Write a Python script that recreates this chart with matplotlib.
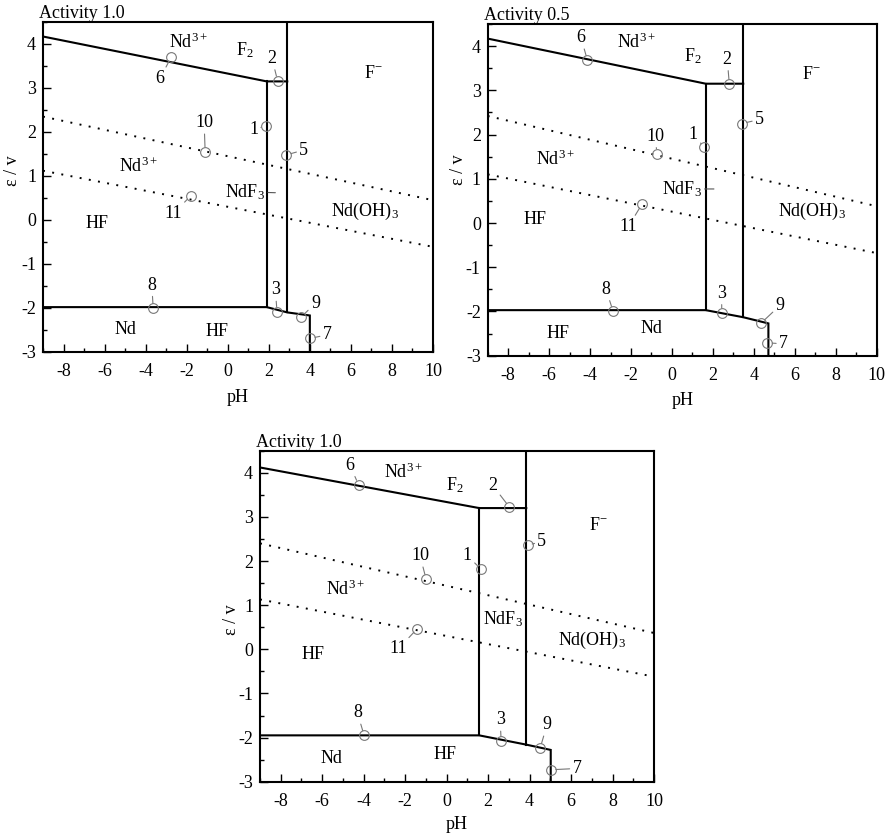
import matplotlib
matplotlib.use("Agg")
import matplotlib.pyplot as plt
from matplotlib.ticker import MultipleLocator

plt.rcParams['font.family'] = ['Liberation Serif', 'DejaVu Serif']
plt.rcParams['mathtext.fontset'] = 'custom'
plt.rcParams['mathtext.rm'] = 'Liberation Serif'
plt.rcParams['mathtext.it'] = 'Liberation Serif:italic'
plt.rcParams['axes.unicode_minus'] = False

# ---------------- data ----------------
titles = ["Activity 1.0", "Activity 0.5", "Activity 1.0"]
point_labels = ["1", "2", "3", "5", "6", "7", "8", "9", "10", "11"]
region_names = ["Nd$^{3+}$", "F$_2$", "F$^{\\mathregular{-}}$", "Nd$^{3+}$", "HF",
                "NdF$_3$", "Nd(OH)$_3$"]

# panel A (Activity 1.0, top-left)
a_top_ph = [-9, 1.9, 2.9]
a_top_e = [4.17, 3.15, 3.15]
a_bot_ph = [-9, 1.9, 2.9, 4.0, 4.0]
a_bot_e = [-1.98, -1.98, -2.10, -2.17, -3.0]
a_v1 = [1.9, 3.15, -1.98]
a_v2 = [2.9, 4.5, -2.10]
a_dot_ph = [-9, 10]
a_dot1_e = [2.35, 0.45]
a_dot2_e = [1.12, -0.61]
a_pt_ph = [1.85, 2.43, 2.40, 2.86, -2.76, 4.02, -3.63, 3.57, -1.10, -1.80]
a_pt_e = [2.14, 3.16, -2.08, 1.48, 3.70, -2.69, -2.01, -2.21, 1.55, 0.55]
a_bottom_names = ["Nd", "HF"]

# panel B (Activity 0.5, top-right)
b_top_ph = [-9, 1.65, 3.48]
b_top_e = [4.17, 3.15, 3.15]
b_bot_ph = [-9, 1.65, 3.48, 4.71, 4.71]
b_bot_e = [-1.97, -1.97, -2.13, -2.27, -3.0]
b_v1 = [1.65, 3.15, -1.97]
b_v2 = [3.48, 4.5, -2.13]
b_dot_ph = [-9, 10]
b_dot1_e = [2.42, 0.38]
b_dot2_e = [1.10, -0.68]
b_pt_ph = [1.58, 2.80, 2.43, 3.42, -4.13, 4.66, -2.88, 4.34, -0.73, -1.46]
b_pt_e = [1.71, 3.15, -2.03, 2.25, 3.68, -2.71, -1.99, -2.27, 1.57, 0.43]
b_bottom_names = ["HF", "Nd"]

# panel C (Activity 1.0, bottom)
c_top_ph = [-9, 1.57, 3.84]
c_top_e = [4.12, 3.20, 3.20]
c_bot_ph = [-9, 1.57, 3.84, 5.02, 5.02]
c_bot_e = [-1.95, -1.95, -2.16, -2.28, -3.0]
c_v1 = [1.57, 3.20, -1.95]
c_v2 = [3.84, 4.5, -2.16]
c_dot_ph = [-9, 10]
c_dot1_e = [2.40, 0.37]
c_dot2_e = [1.13, -0.62]
c_pt_ph = [1.65, 3.03, 2.63, 3.90, -4.25, 5.03, -3.98, 4.51, -0.99, -1.41]
c_pt_e = [1.82, 3.22, -2.08, 2.36, 3.73, -2.73, -1.95, -2.24, 1.59, 0.47]
c_bottom_names = ["Nd", "HF"]

# ---------------- layout (positions only) ----------------
axes_rects = [
    [43 / 886, 1 - 352 / 836, 390 / 886, 330 / 836],
    [487.7 / 886, 1 - 355.7 / 836, 389 / 886, 331.7 / 836],
    [260 / 886, 1 - 781.7 / 836, 394 / 886, 331 / 836],
]
ylabel_xy = [(-0.077, 0.55), (-0.076, 0.56), (-0.072, 0.49)]
xlabel_xy = [(0.5, -0.139), (0.5, -0.135), (0.5, -0.13)]
label_pos = [
    [(1.26, 2.05), (2.16, 3.67), (2.32, -1.59), (3.70, 1.59), (-3.29, 3.22),
     (4.84, -2.61), (-3.70, -1.48), (4.27, -1.89), (-1.15, 2.21), (-2.64, 0.15)],
    [(1.04, 2.00), (2.70, 3.70), (2.43, -1.59), (4.27, 2.34), (-4.44, 4.19),
     (5.44, -2.73), (-3.22, -1.50), (5.28, -1.86), (-0.83, 1.96), (-2.13, -0.08)],
    [(1.00, 2.12), (2.23, 3.71), (2.58, -1.60), (4.59, 2.44), (-4.66, 4.17),
     (6.28, -2.70), (-4.30, -1.44), (4.84, -1.71), (-1.28, 2.12), (-2.33, 0.01)],
]
region_pos = [
    [(-1.91, 4.05), (0.85, 3.86), (7.11, 3.33), (-4.35, 1.21), (-6.38, -0.07),
     (0.85, 0.64), (6.70, 0.19)],
    [(-1.72, 4.08), (1.00, 3.77), (6.83, 3.36), (-5.71, 1.43), (-6.69, 0.07),
     (0.48, 0.77), (6.83, 0.26)],
    [(-2.08, 4.02), (0.41, 3.73), (7.33, 2.80), (-4.90, 1.36), (-6.43, -0.12),
     (2.74, 0.68), (7.00, 0.19)],
]
bottom_pos = [
    [(-5.0, -2.50), (-0.53, -2.54)],
    [(-5.55, -2.50), (-0.99, -2.39)],
    [(-5.54, -2.47), (-0.10, -2.39)],
]
ndf3_leader_end = [(2.32, 0.62), (2.05, 0.77), None]

panels = [
    (a_top_ph, a_top_e, a_bot_ph, a_bot_e, a_v1, a_v2, a_dot_ph, a_dot1_e, a_dot2_e,
     a_pt_ph, a_pt_e, a_bottom_names),
    (b_top_ph, b_top_e, b_bot_ph, b_bot_e, b_v1, b_v2, b_dot_ph, b_dot1_e, b_dot2_e,
     b_pt_ph, b_pt_e, b_bottom_names),
    (c_top_ph, c_top_e, c_bot_ph, c_bot_e, c_v1, c_v2, c_dot_ph, c_dot1_e, c_dot2_e,
     c_pt_ph, c_pt_e, c_bottom_names),
]

FS = 13
fig = plt.figure(figsize=(8.86, 8.36), dpi=100)

for i, (top_ph, top_e, bot_ph, bot_e, v1, v2, dph, d1, d2, pph, pe, bnames) in enumerate(panels):
    ax = fig.add_axes(axes_rects[i])
    lw = 1.5
    ax.plot(top_ph, top_e, color='black', lw=lw, solid_joinstyle='miter')
    ax.plot(bot_ph, bot_e, color='black', lw=lw, solid_joinstyle='miter')
    ax.plot([v1[0], v1[0]], [v1[1], v1[2]], color='black', lw=lw)
    ax.plot([v2[0], v2[0]], [v2[1], v2[2]], color='black', lw=lw)
    ax.plot(dph, d1, color='black', lw=1.4, linestyle=(0, (1, 3.8)))
    ax.plot(dph, d2, color='black', lw=1.4, linestyle=(0, (1, 3.8)))

    ax.plot(pph, pe, linestyle='none', marker='o', ms=7, mfc='none', mec='#777777', mew=0.8)
    for lab, x, y, lp in zip(point_labels, pph, pe, label_pos[i]):
        ax.annotate(lab, xy=(x, y), xytext=lp, ha='center', va='center', fontsize=FS,
                    arrowprops=dict(arrowstyle='-', color='#777777', lw=0.8,
                                    shrinkA=0, shrinkB=3.5))

    for name, (x, y) in zip(region_names, region_pos[i]):
        if name.startswith("NdF") and ndf3_leader_end[i] is not None:
            ax.annotate(name, xy=ndf3_leader_end[i], xytext=(x, y), ha='center',
                        va='center', fontsize=FS,
                        arrowprops=dict(arrowstyle='-', color='#555555', lw=0.8,
                                        shrinkA=0, shrinkB=0))
        else:
            ax.text(x, y, name, ha='center', va='center', fontsize=FS)
    for name, (x, y) in zip(bnames, bottom_pos[i]):
        ax.text(x, y, name, ha='center', va='center', fontsize=FS)

    ax.set_xlim(-9, 10)
    ax.set_ylim(-3, 4.5)
    ax.xaxis.set_major_locator(MultipleLocator(2))
    ax.xaxis.set_minor_locator(MultipleLocator(1))
    ax.yaxis.set_minor_locator(MultipleLocator(0.5))
    ax.set_yticks([-3, -2, -1, 0, 1, 2, 3, 4])
    ax.tick_params(which='both', direction='in', top=False, right=False,
                   labelsize=FS, width=1.0)
    ax.tick_params(which='major', length=6)
    ax.tick_params(which='minor', length=3)
    ax.tick_params(axis='x', pad=8)
    ax.tick_params(axis='y', pad=5)
    for s in ax.spines.values():
        s.set_linewidth(1.5)
    ax.set_xlabel("pH", fontsize=FS, va='center')
    ax.set_ylabel("ε / v", fontsize=FS, va='center')
    ax.xaxis.set_label_coords(*xlabel_xy[i])
    ax.yaxis.set_label_coords(*ylabel_xy[i])
    ax.set_title(titles[i], loc='left', fontsize=FS, pad=3, x=-0.01)

fig.savefig("out.png", dpi=100)
